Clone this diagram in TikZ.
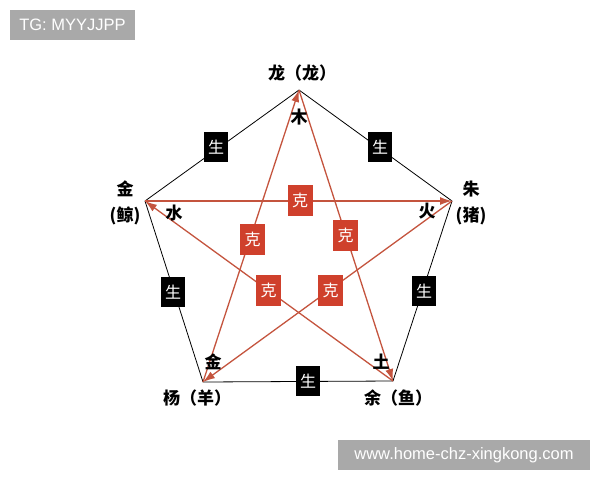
\documentclass[tikz,border=0pt]{standalone}
\usepackage{fontspec}
\setmainfont{Liberation Sans}
\newfontfamily\cjk{Noto Sans CJK SC}
\usetikzlibrary{arrows.meta}
\definecolor{kered}{RGB}{207,64,44}
\definecolor{kestroke}{RGB}{196,84,62}
\definecolor{tagbg}{RGB}{169,169,169}

\begin{document}
\begin{tikzpicture}[x=1pt,y=-1pt,
    sheng/.style={fill=black,text=white,minimum width=24pt,minimum height=30pt,inner sep=0pt,font=\cjk\fontsize{16}{16}\selectfont},
    kebox/.style={fill=kered,text=white,minimum width=25pt,minimum height=31pt,inner sep=0pt,font=\cjk\fontsize{16}{16}\selectfont},
    keline/.style={draw=kestroke,line width=1.3pt,-{Latex[length=12pt,width=8pt]}},
    animal/.style={font=\cjk\bfseries\fontsize{17}{20}\selectfont,inner sep=0pt},
    tag/.style={fill=tagbg,text=white,inner sep=0pt,font=\fontsize{16.5}{16.5}\selectfont}]
  \useasboundingbox (0,0) rectangle (600,480);
  % corners of the pentagon
  \coordinate (T) at (299,90);
  \coordinate (L) at (145,201);
  \coordinate (R) at (452,201);
  \coordinate (BL) at (203,382);
  \coordinate (BR) at (393,381);
  \draw[line width=0.8pt] (T) -- (R) -- (BR) -- (BL) -- (L) -- cycle;
  % star
  \draw[keline] (T) -- (BR);
  \draw[keline] (BR) -- (L);
  \draw[keline] (L) -- (R);
  \draw[keline] (R) -- (BL);
  \draw[keline] (BL) -- (T);
  % boxes on the edges
  \node[sheng] (s1) at (216,147) {生};
  \node[sheng] (s2) at (380,147) {生};
  \node[sheng] (s3) at (173,292) {生};
  \node[sheng] (s4) at (424,291) {生};
  \node[sheng] (s5) at (308,381) {生};
  \node[kebox] (k1) at (300,200.5) {克};
  \node[kebox] (k2) at (252.5,239.5) {克};
  \node[kebox] (k3) at (345.5,235.5) {克};
  \node[kebox] (k4) at (268.5,290.5) {克};
  \node[kebox] (k5) at (330.5,290.5) {克};
  % outer names
  \node[animal] (nT) at (302,73) {龙（龙）};
  \node[animal] (nL1) at (125,189) {金};
  \node[animal] (nL2) at (125,216) {(鲸)};
  \node[animal] (nR1) at (471,189) {朱};
  \node[animal] (nR2) at (471,216) {(猪)};
  \node[animal] (nBL) at (197,398) {杨（羊）};
  \node[animal] (nBR) at (398,398) {余（鱼）};
  % inner elements
  \node[animal] (wT) at (299,117) {木};
  \node[animal] (wL) at (174,213) {水};
  \node[animal] (wR) at (427,211) {火};
  \node[animal] (wBL) at (213,362) {金};
  \node[animal] (wBR) at (381,362) {土};
  % tags
  \node[tag,minimum width=125pt,minimum height=30pt] (tg) at (72.5,25) {TG: MYYJJPP};
  \node[tag,minimum width=252pt,minimum height=30pt] (web) at (464,455) {www.home-chz-xingkong.com};
\end{tikzpicture}
\end{document}
